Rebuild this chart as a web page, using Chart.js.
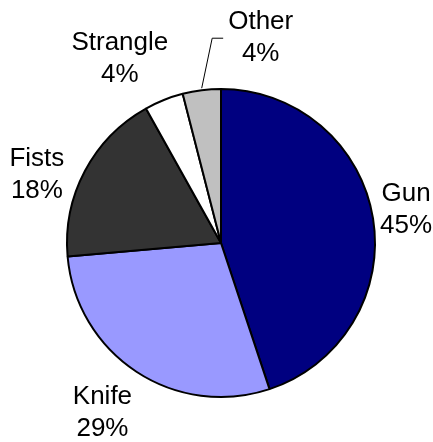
<!DOCTYPE html>
<html>
<head>
<meta charset="utf-8">
<script src="https://cdn.jsdelivr.net/npm/chart.js@4/dist/chart.umd.min.js"></script>
<style>
  body { margin: 0; background: #fff; }
</style>
</head>
<body>
<canvas id="pieWeapons" width="433" height="442"></canvas>
<script>
var weapons = ["Gun", "Knife", "Fists", "Strangle", "Other"];
var shares = [44.9, 28.7, 18.3, 4.1, 4.0];

var sliceColors = ["#000080", "#9999FF", "#333333", "#FFFFFF", "#C0C0C0"];
// label box centre, relative to the point where the slice's mid-angle meets the rim
var labelShift = [[33, -9], [-34, 41], [-48, 4], [-44, -41], [59, -52]];
var withLeader = [false, false, false, false, true];

var outsideLabels = {
    id: 'outsideLabels',
    afterDatasetsDraw: function (chart) {
        var ctx = chart.ctx;
        var meta = chart.getDatasetMeta(0);
        var total = shares.reduce(function (a, b) { return a + b; }, 0);
        ctx.save();
        ctx.font = '26px "Liberation Sans", Arial, sans-serif';
        ctx.fillStyle = '#000';
        ctx.textAlign = 'center';
        ctx.textBaseline = 'middle';
        meta.data.forEach(function (arc, i) {
            var p = arc.getProps(['x', 'y', 'startAngle', 'endAngle', 'outerRadius'], true);
            var mid = (p.startAngle + p.endAngle) / 2;
            var ex = p.x + Math.cos(mid) * p.outerRadius;
            var ey = p.y + Math.sin(mid) * p.outerRadius;
            var lx = ex + labelShift[i][0];
            var ly = ey + labelShift[i][1];
            var pct = Math.round(shares[i] / total * 100) + '%';
            ctx.fillText(weapons[i], lx, ly - 16);
            ctx.fillText(pct, lx, ly + 16);
            if (withLeader[i]) {
                var w = Math.max(ctx.measureText(weapons[i]).width, ctx.measureText(pct).width);
                var left = lx - w / 2;
                ctx.beginPath();
                ctx.strokeStyle = '#000';
                ctx.lineWidth = 1;
                ctx.moveTo(ex, ey - 2);
                ctx.lineTo(left - 16, ly);
                ctx.lineTo(left - 5, ly);
                ctx.stroke();
            }
        });
        ctx.restore();
    }
};

var ctxW = document.getElementById("pieWeapons").getContext('2d');
var myPieChart = new Chart(ctxW, {
    type: 'pie',
    data: {
        labels: weapons,
        datasets: [{
            data: shares,
            backgroundColor: sliceColors,
            borderColor: "#000000",
            borderWidth: 2,
            radius: 154
        }]
    },
    options: {
        responsive: false,
        animation: false,
        layout: { padding: { left: 60, right: 51, top: 80, bottom: 36 } },
        plugins: {
            legend: { display: false },
            tooltip: { enabled: false }
        }
    },
    plugins: [outsideLabels]
});
</script>
</body>
</html>
